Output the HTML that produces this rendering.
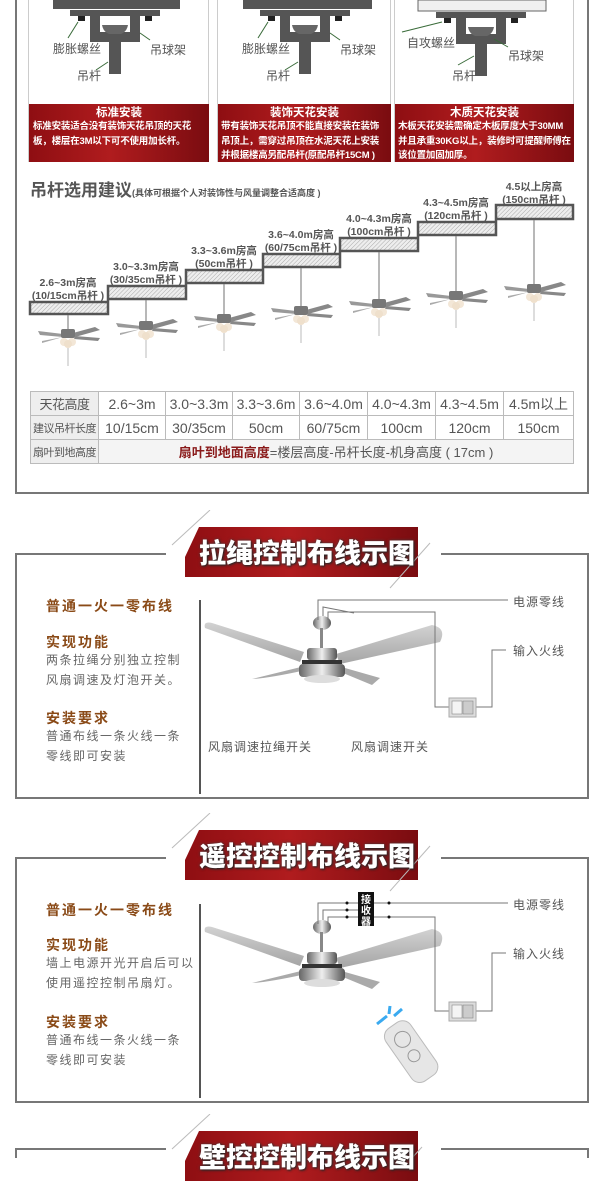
<!DOCTYPE html>
<html><head><meta charset="utf-8">
<style>
*{margin:0;padding:0;box-sizing:border-box}
body{width:600px;height:1158px;overflow:hidden;background:#fff;position:relative;font-family:"Liberation Sans","Noto Sans CJK SC",sans-serif;color:#555}
.a{position:absolute;white-space:nowrap}
.red{background:linear-gradient(90deg,#8e0e12 0%,#b01c1e 45%,#7a0c10 100%);}
.pt{color:#fff;font-weight:bold;text-align:center;font-size:11.5px;line-height:14px}
.pd{color:#fff;font-weight:bold;font-size:9.5px;line-height:14.5px;padding:0 4px;white-space:normal;letter-spacing:-0.2px}
.tb{position:absolute;left:30px;top:391px;border-collapse:collapse;width:543px;table-layout:fixed}
.tb td{border:1px solid #bbb;height:24px;text-align:center;font-size:14px;color:#555;padding:0;white-space:nowrap;overflow:hidden}
.tb td.h{background:#eee;font-size:11px;letter-spacing:-0.5px}
.band{position:absolute;height:50px;width:233px;clip-path:polygon(14px 0,100% 0,100% 100%,0 100%,0 30px)}
.bt{position:absolute;color:#fff;font-weight:900;font-size:27px;text-shadow:1px 1px 2px #222,0 0 3px #444}
.hd{color:#8a4a17;font-weight:bold;font-size:14px;letter-spacing:2px}
.bd{color:#666;font-size:12px;letter-spacing:1.5px;line-height:20px}
.lbl{color:#555;font-size:12px;letter-spacing:1px}
</style></head><body>

<div class="a" style="left:15px;top:0;width:574px;height:494px;border:2px solid #777;border-top:none"></div>
<div class="a" style="left:28px;top:0;width:181px;height:162px;border:1px solid #ccc;border-top:none"></div>
<div class="a" style="left:217px;top:0;width:174px;height:162px;border:1px solid #ccc;border-top:none"></div>
<div class="a" style="left:394px;top:0;width:180px;height:162px;border:1px solid #ccc;border-top:none"></div>

<svg class="a" style="left:0;top:0" width="600" height="105">
 <defs>
  <g id="mnt">
   <rect x="0" y="10" width="90" height="6" fill="#555"/>
   <rect x="8" y="16" width="7" height="5" fill="#222"/>
   <rect x="75" y="16" width="7" height="5" fill="#222"/>
   <path d="M20 10 h10 v22 h30 v-22 h10 v32 h-50z" fill="#555"/>
   <path d="M32 25 h26 q-2 10 -13 10 q-11 0 -13 -10z" fill="#666"/>
   <rect x="39" y="34" width="12" height="40" fill="#555"/>
  </g>
 </defs>
 <rect x="53" y="0" width="127" height="9" fill="#555"/>
 <use href="#mnt" x="70" y="0"/>
 <rect x="243" y="0" width="129" height="9" fill="#555"/>
 <use href="#mnt" x="260" y="0"/>
 <rect x="418" y="0" width="128" height="11" fill="#f0f0f0" stroke="#666"/>
 <use href="#mnt" x="436" y="2"/>
 <g stroke="#3a6b3a" stroke-width="1">
  <line x1="68" y1="38" x2="78" y2="22"/><line x1="150" y1="40" x2="140" y2="33"/><line x1="96" y1="70" x2="108" y2="62"/>
  <line x1="258" y1="38" x2="268" y2="22"/><line x1="340" y1="40" x2="330" y2="33"/><line x1="285" y1="70" x2="298" y2="62"/>
  <line x1="402" y1="32" x2="442" y2="22"/><line x1="508" y1="47" x2="494" y2="39"/><line x1="458" y1="65" x2="474" y2="56"/>
 </g>
 <g font-size="12" fill="#555" font-family="Liberation Sans,Noto Sans CJK SC,sans-serif">
  <text x="53" y="53">膨胀螺丝</text><text x="150" y="54">吊球架</text><text x="77" y="80">吊杆</text>
  <text x="242" y="53">膨胀螺丝</text><text x="340" y="54">吊球架</text><text x="266" y="80">吊杆</text>
  <text x="407" y="47">自攻螺丝</text><text x="508" y="60">吊球架</text><text x="452" y="80">吊杆</text>
 </g>
</svg>

<div class="a red" style="left:29px;top:104px;width:180px;height:58px">
 <div class="pt" style="margin-top:2px">标准安装</div>
 <div class="pd">标准安装适合没有装饰天花吊顶的天花板，楼层在3M以下可不使用加长杆。</div>
</div>
<div class="a red" style="left:218px;top:104px;width:173px;height:58px">
 <div class="pt" style="margin-top:2px">装饰天花安装</div>
 <div class="pd" style="padding:0 3px">带有装饰天花吊顶不能直接安装在装饰吊顶上，需穿过吊顶在水泥天花上安装并根据楼高另配吊杆(原配吊杆15CM )</div>
</div>
<div class="a red" style="left:395px;top:104px;width:179px;height:58px">
 <div class="pt" style="margin-top:2px">木质天花安装</div>
 <div class="pd" style="padding:0 3px">木板天花安装需确定木板厚度大于30MM并且承重30KG以上，装修时可提醒师傅在该位置加固加厚。</div>
</div>

<div class="a" style="left:30px;top:176px;font-size:17px;font-weight:bold;color:#555">吊杆选用建议<span style="font-size:9px">(具体可根据个人对装饰性与风量调整合适高度 )</span></div>

<svg class="a" style="left:0;top:170px" width="600" height="214">
 <defs>
  <pattern id="hat" width="3" height="3" patternUnits="userSpaceOnUse" patternTransform="rotate(45)"><rect width="3" height="3" fill="#eee"/><line x1="0" y1="0" x2="0" y2="3" stroke="#aaa" stroke-width="1"/></pattern>
  <g id="sf">
   <path d="M-30 -3 L-5 0 L-5 3 L-28 1z" fill="#999"/>
   <path d="M5 -1 L27 -7 L32 -4 L7 3z" fill="#888"/>
   <path d="M7 2 L32 4 L30 7 L6 5z" fill="#888"/>
   <path d="M-5 3 L-26 9 L-26 7z" fill="#aaa"/>
   <rect x="-7" y="-5" width="14" height="9" rx="2" fill="#777"/>
   <circle cx="-4" cy="8" r="4" fill="#f3e7d7"/><circle cx="4" cy="8" r="4" fill="#f3e7d7"/><circle cx="0" cy="10" r="4" fill="#efe0cc"/>
   <line x1="0" y1="14" x2="0" y2="32" stroke="#bbb"/>
  </g>
 </defs>
 <g transform="translate(0,14)">
 <g stroke="#555" stroke-width="2.5" fill="url(#hat)">
  <path d="M30 130 V118 H108 V102 H186 V86 H263 V70 H340 V54 H418 V38 H496 V21 H573 V35 H496 V51 H418 V67 H340 V83 H263 V99 H186 V115 H108 V130z"/>
 </g>
 <g stroke="#888" stroke-width="1.2">
  <line x1="68" y1="131" x2="68" y2="145"/><line x1="146" y1="116" x2="146" y2="138"/><line x1="224" y1="100" x2="224" y2="130"/>
  <line x1="301" y1="84" x2="301" y2="123"/><line x1="379" y1="68" x2="379" y2="115"/><line x1="456" y1="52" x2="456" y2="108"/><line x1="534" y1="36" x2="534" y2="100"/>
 </g>
 <use href="#sf" x="68" y="150"/><use href="#sf" x="146" y="142"/><use href="#sf" x="224" y="135"/><use href="#sf" x="301" y="127"/>
 <use href="#sf" x="379" y="120"/><use href="#sf" x="456" y="112"/><use href="#sf" x="534" y="105"/>
 <g font-size="10.5" fill="#555" font-weight="bold" font-family="Liberation Sans,Noto Sans CJK SC,sans-serif" text-anchor="middle">
  <text x="68" y="102">2.6~3m房高</text><text x="68" y="115">(10/15cm吊杆 )</text>
  <text x="146" y="86">3.0~3.3m房高</text><text x="146" y="99">(30/35cm吊杆 )</text>
  <text x="224" y="70">3.3~3.6m房高</text><text x="224" y="83">(50cm吊杆 )</text>
  <text x="301" y="54">3.6~4.0m房高</text><text x="301" y="67">(60/75cm吊杆 )</text>
  <text x="379" y="38">4.0~4.3m房高</text><text x="379" y="51">(100cm吊杆 )</text>
  <text x="456" y="22">4.3~4.5m房高</text><text x="456" y="35">(120cm吊杆 )</text>
  <text x="534" y="6">4.5以上房高</text><text x="534" y="19">(150cm吊杆 )</text>
 </g>
 </g>
</svg>

<table class="tb">
<colgroup><col style="width:68px"><col style="width:67px"><col style="width:67px"><col style="width:67px"><col style="width:68px"><col style="width:68px"><col style="width:68px"><col style="width:70px"></colgroup>
<tr><td class="h" style="font-size:13px">天花高度</td><td>2.6~3m</td><td>3.0~3.3m</td><td>3.3~3.6m</td><td>3.6~4.0m</td><td>4.0~4.3m</td><td>4.3~4.5m</td><td>4.5m以上</td></tr>
<tr><td class="h">建议吊杆长度</td><td>10/15cm</td><td>30/35cm</td><td>50cm</td><td>60/75cm</td><td>100cm</td><td>120cm</td><td>150cm</td></tr>
<tr><td class="h">扇叶到地高度</td><td colspan="7" style="background:#f4f4f4;font-size:13px"><b style="color:#8a1a1a">扇叶到地面高度</b>=楼层高度-吊杆长度-机身高度 ( 17cm )</td></tr>
</table>

<svg width="0" height="0" style="position:absolute">
 <defs>
  <linearGradient id="bl" x1="0" y1="0" x2="0" y2="1"><stop offset="0" stop-color="#d2d2d2"/><stop offset="1" stop-color="#a5a5a5"/></linearGradient>
  <linearGradient id="ch" x1="0" y1="0" x2="1" y2="0"><stop offset="0" stop-color="#666"/><stop offset=".5" stop-color="#eee"/><stop offset="1" stop-color="#555"/></linearGradient>
  <g id="bigfan">
   <path d="M205 628 Q203 621 212 623 L304 652 L300 662z" fill="url(#bl)"/>
   <path d="M336 654 L432 625 Q447 628 440 642 L340 664z" fill="url(#bl)"/>
   <path d="M252 679 L305 666 L306 670 Q270 678 252 679z" fill="#aaa"/>
   <path d="M345 668 L380 678 L372 685 L343 673z" fill="#aaa"/>
   <ellipse cx="322" cy="623" rx="9" ry="7" fill="url(#ch)"/>
   <rect x="320" y="628" width="3" height="20" fill="#888"/>
   <rect x="307" y="648" width="30" height="12" rx="3" fill="url(#ch)"/>
   <rect x="302" y="660" width="40" height="4" fill="#333"/>
   <rect x="299" y="664" width="46" height="13" rx="4" fill="url(#ch)"/>
   <ellipse cx="322" cy="679" rx="18" ry="4" fill="#ddd"/>
  </g>
 </defs>
</svg>

<!-- Section 2 -->
<div class="a" style="left:15px;top:553px;width:574px;height:246px;border:2px solid #777;border-top:none"></div>
<div class="a" style="left:15px;top:553px;width:151px;height:2px;background:#777"></div>
<div class="a" style="left:441px;top:553px;width:148px;height:2px;background:#777"></div>
<div class="a band red" style="left:185px;top:527px"></div>
<svg class="a" style="left:160px;top:510px" width="280" height="80"><line x1="12" y1="35" x2="50" y2="0" stroke="#bbb"/><line x1="230" y1="78" x2="270" y2="33" stroke="#bbb"/></svg>
<div class="bt" style="left:199px;top:532px">拉绳控制布线示图</div>
<div class="a hd" style="left:46px;top:596px">普通一火一零布线</div>
<div class="a hd" style="left:46px;top:632px">实现功能</div>
<div class="a bd" style="left:46px;top:650px">两条拉绳分别独立控制<br>风扇调速及灯泡开关。</div>
<div class="a hd" style="left:46px;top:708px">安装要求</div>
<div class="a bd" style="left:46px;top:726px">普通布线一条火线一条<br>零线即可安装</div>
<div class="a" style="left:199px;top:600px;width:2px;height:194px;background:#555"></div>
<svg class="a" style="left:0;top:0" width="600" height="800">
 <use href="#bigfan"/>
 <g stroke="#777" fill="none" stroke-width="1">
  <path d="M318 620 V600 H508"/>
  <path d="M323 616 V607 L354 613"/>
  <path d="M328 620 V612 H435 V707 H449"/>
  <path d="M476 707 H492 V650 H506"/>
 </g>
 <rect x="449" y="698" width="27" height="19" fill="#ddd" stroke="#aaa"/>
 <rect x="452" y="701" width="10" height="13" fill="#f4f4f4" stroke="#888" stroke-width=".6"/>
 <rect x="463" y="701" width="10" height="13" fill="#ccc" stroke="#888" stroke-width=".6"/>
</svg>
<div class="a lbl" style="left:513px;top:593px">电源零线</div>
<div class="a lbl" style="left:513px;top:642px">输入火线</div>
<div class="a lbl" style="left:208px;top:738px">风扇调速拉绳开关</div>
<div class="a lbl" style="left:351px;top:738px">风扇调速开关</div>

<!-- Section 3 -->
<div class="a" style="left:15px;top:857px;width:574px;height:246px;border:2px solid #777;border-top:none"></div>
<div class="a" style="left:15px;top:857px;width:151px;height:2px;background:#777"></div>
<div class="a" style="left:441px;top:857px;width:148px;height:2px;background:#777"></div>
<div class="a band red" style="left:185px;top:830px"></div>
<svg class="a" style="left:160px;top:813px" width="280" height="80"><line x1="12" y1="35" x2="50" y2="0" stroke="#bbb"/><line x1="230" y1="78" x2="270" y2="33" stroke="#bbb"/></svg>
<div class="bt" style="left:199px;top:835px">遥控控制布线示图</div>
<div class="a hd" style="left:46px;top:900px">普通一火一零布线</div>
<div class="a hd" style="left:46px;top:935px">实现功能</div>
<div class="a bd" style="left:46px;top:953px">墙上电源开光开启后可以<br>使用遥控控制吊扇灯。</div>
<div class="a hd" style="left:46px;top:1012px">安装要求</div>
<div class="a bd" style="left:46px;top:1030px">普通布线一条火线一条<br>零线即可安装</div>
<div class="a" style="left:199px;top:904px;width:2px;height:194px;background:#555"></div>
<svg class="a" style="left:0;top:0" width="600" height="1158">
 <use href="#bigfan" y="304"/>
 <g stroke="#777" fill="none" stroke-width="1">
  <path d="M318 924 V903 H508"/>
  <path d="M323 920 V910 H358"/>
  <path d="M328 924 V917 H435 V1011 H449"/>
  <path d="M476 1011 H492 V953 H506"/>
 </g>
 <g fill="#111"><circle cx="347" cy="903" r="1.5"/><circle cx="347" cy="910" r="1.5"/><circle cx="347" cy="917" r="1.5"/><circle cx="389" cy="903" r="1.5"/><circle cx="389" cy="917" r="1.5"/></g>
 <rect x="358" y="892" width="16" height="34" fill="#111"/>
 <g fill="#fff" font-size="10" font-weight="bold" font-family="Liberation Sans,Noto Sans CJK SC,sans-serif"><text x="361" y="903">接</text><text x="361" y="914">收</text><text x="361" y="925">器</text></g>
 <rect x="449" y="1002" width="27" height="19" fill="#ddd" stroke="#aaa"/>
 <rect x="452" y="1005" width="10" height="13" fill="#f4f4f4" stroke="#888" stroke-width=".6"/>
 <rect x="463" y="1005" width="10" height="13" fill="#ccc" stroke="#888" stroke-width=".6"/>
 <path d="M377 1024 L387 1016 M389 1014 L390 1006 M394 1016 L402 1009" stroke="#3aaaf0" stroke-width="3"/>
 <g transform="rotate(-35 410 1050)">
  <rect x="395" y="1020" width="30" height="64" rx="10" fill="#e6e6e6" stroke="#bbb"/>
  <circle cx="410" cy="1037" r="8" fill="none" stroke="#999"/>
  <circle cx="410" cy="1057" r="6" fill="none" stroke="#999"/>
 </g>
</svg>
<div class="a lbl" style="left:513px;top:896px">电源零线</div>
<div class="a lbl" style="left:513px;top:945px">输入火线</div>

<!-- Section 4 partial -->
<div class="a" style="left:15px;top:1148px;width:151px;height:2px;background:#777"></div>
<div class="a" style="left:15px;top:1148px;width:2px;height:10px;background:#777"></div>
<div class="a" style="left:441px;top:1148px;width:148px;height:2px;background:#777"></div>
<div class="a" style="left:587px;top:1148px;width:2px;height:10px;background:#777"></div>
<div class="a band red" style="left:185px;top:1131px"></div>
<svg class="a" style="left:160px;top:1114px" width="280" height="44"><line x1="12" y1="35" x2="50" y2="0" stroke="#bbb"/><line x1="252" y1="44" x2="262" y2="33" stroke="#bbb"/></svg>
<div class="bt" style="left:199px;top:1136px">壁控控制布线示图</div>
</body></html>
